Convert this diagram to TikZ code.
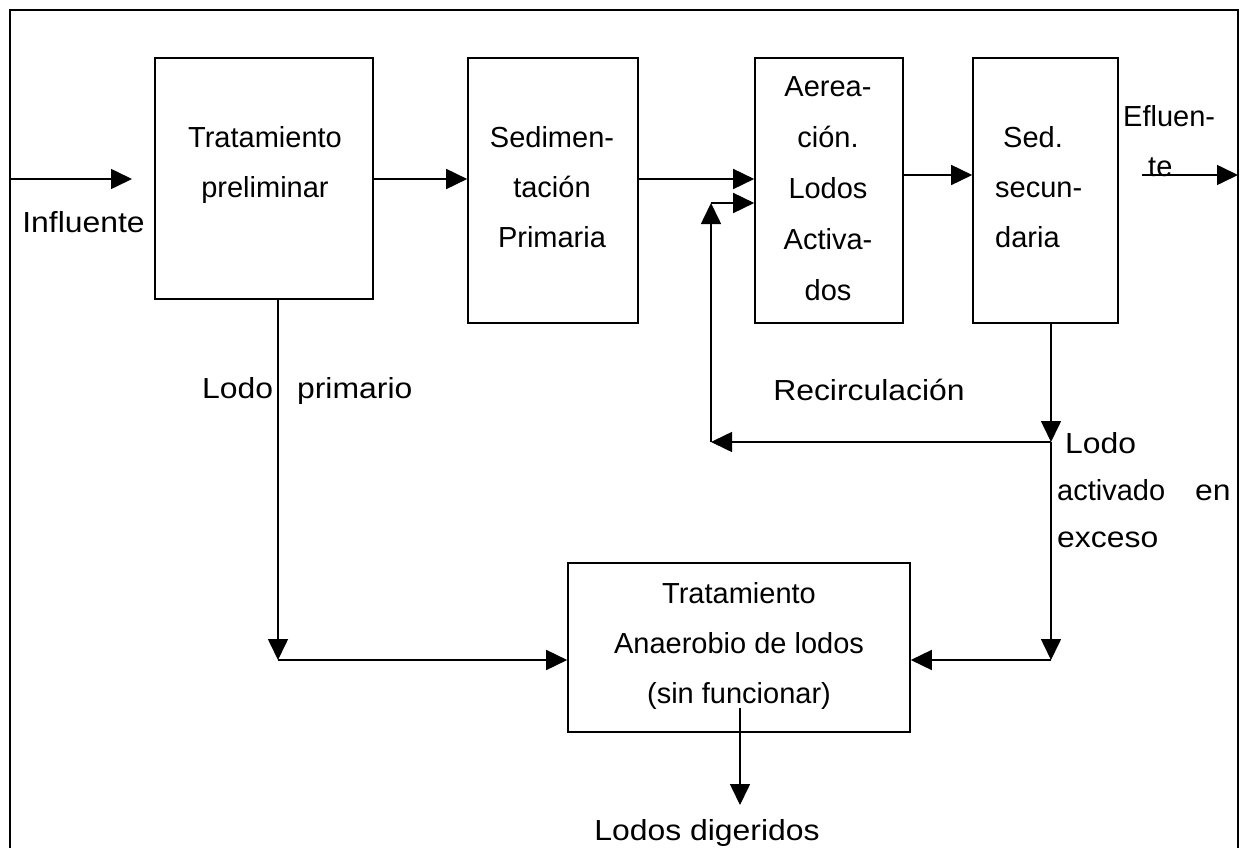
\documentclass[tikz,border=0pt]{standalone}
\usepackage{fontspec}
\setmainfont{Liberation Sans}
\newfontfamily\widefont[FakeStretch=1.1]{Liberation Sans}
\usetikzlibrary{arrows.meta}
\tikzset{
  procbox/.style={draw, line width=1.6pt, inner sep=0pt},
  lbl/.style={inner sep=0pt, font=\fontsize{29}{50}\selectfont},
  widelbl/.style={inner sep=0pt, font=\widefont\fontsize{29}{50}\selectfont},
  flow/.style={line width=1.6pt, -{Triangle[length=21pt,width=20pt]}},
  frameline/.style={line width=1.6pt}
}
\begin{document}
\begin{tikzpicture}[x=1pt,y=-1pt]
\useasboundingbox (0,0) rectangle (1251,848);

% outer frame (open at the bottom)
\draw[frameline] (10,848) -- (10,10) -- (1238,10) -- (1238,848);

% process units
\node[procbox, minimum width=218pt, minimum height=241pt] (pre)  at (264,178.5) {};
\node[procbox, minimum width=170pt, minimum height=265pt] (sedp) at (553,190.5) {};
\node[procbox, minimum width=148pt, minimum height=265pt] (aer)  at (829,190.5) {};
\node[procbox, minimum width=145pt, minimum height=265pt] (seds) at (1045.5,190.5) {};
\node[procbox, minimum width=342pt, minimum height=169pt] (ana)  at (739,647.5) {};

% texts inside the units
\node[lbl, align=center] (preT)  at (265,165.5) {Tratamiento\\preliminar};
\node[lbl, align=center] (sedpT) at (552,187.5) {Sedimen-\\tación\\Primaria};
\node[lbl, align=center, font=\fontsize{29}{51}\selectfont] (aerT) at (828,188.5) {Aerea-\\ción.\\Lodos\\Activa-\\dos};
\node[lbl, align=left, anchor=west] (sedsT) at (995,187.5) {\hspace*{8pt}Sed.\\secun-\\daria};
\node[lbl, align=center] (anaT) at (739,646) {Tratamiento\\Anaerobio de lodos\\(sin funcionar)};

% stream labels
\node[widelbl, anchor=base] (inflT) at (83.5,232) {Influente};
\node[lbl, align=left, anchor=west] (eflT) at (1123,141.5) {Efluen-\\\hspace*{25pt}te};
\node[widelbl, anchor=base west] (primT) at (202,398) {Lodo\hspace{24pt}primario};
\node[widelbl, anchor=base] (recT) at (869,400) {Recirculación};
\node[widelbl, align=left, anchor=west, font=\widefont\fontsize{29}{47}\selectfont] (excT) at (1057,490)
  {\hspace*{8pt}Lodo\\{\normalfont activado}\hspace{30pt}en\\exceso};
\node[widelbl, anchor=base] (digT) at (707,840) {Lodos digeridos};

% junction points
\coordinate (inA) at (10,179);
\coordinate (inB) at (132,179);
\coordinate (efA) at (1142,175);
\coordinate (efB) at (1238,175);
\coordinate (r1) at (1051,442);
\coordinate (r2) at (711,442);
\coordinate (r3) at (711,203);
\coordinate (r4) at (1051,660);
\coordinate (p1) at (278,660);
\coordinate (d0) at (740,708);
\coordinate (d1) at (740,805);

% main line
\draw[flow] (inA) -- (inB);
\draw[flow] (pre.east |- inA) -- (sedp.west |- inA);
\draw[flow] (sedp.east |- inA) -- (aer.west |- inA);
\draw[flow] (aer.east |- efA) -- (seds.west |- efA);
\draw[flow] (efA) -- (efB);

% return and excess sludge
\draw[flow] (seds.south -| r1) -- (r1);
\draw[flow] (r1) -- (r2);
\draw[flow] (r2) -- (r3);
\draw[flow] (r3) -- (aer.west |- r3);
\draw[flow] (r1) -- (r4);
\draw[flow] (r4) -- (ana.east |- r4);

% primary sludge
\draw[flow] (pre.south -| p1) -- (p1);
\draw[flow] (p1) -- (ana.west |- p1);

% digested sludge
\draw[flow] (d0) -- (d1);
\end{tikzpicture}
\end{document}
